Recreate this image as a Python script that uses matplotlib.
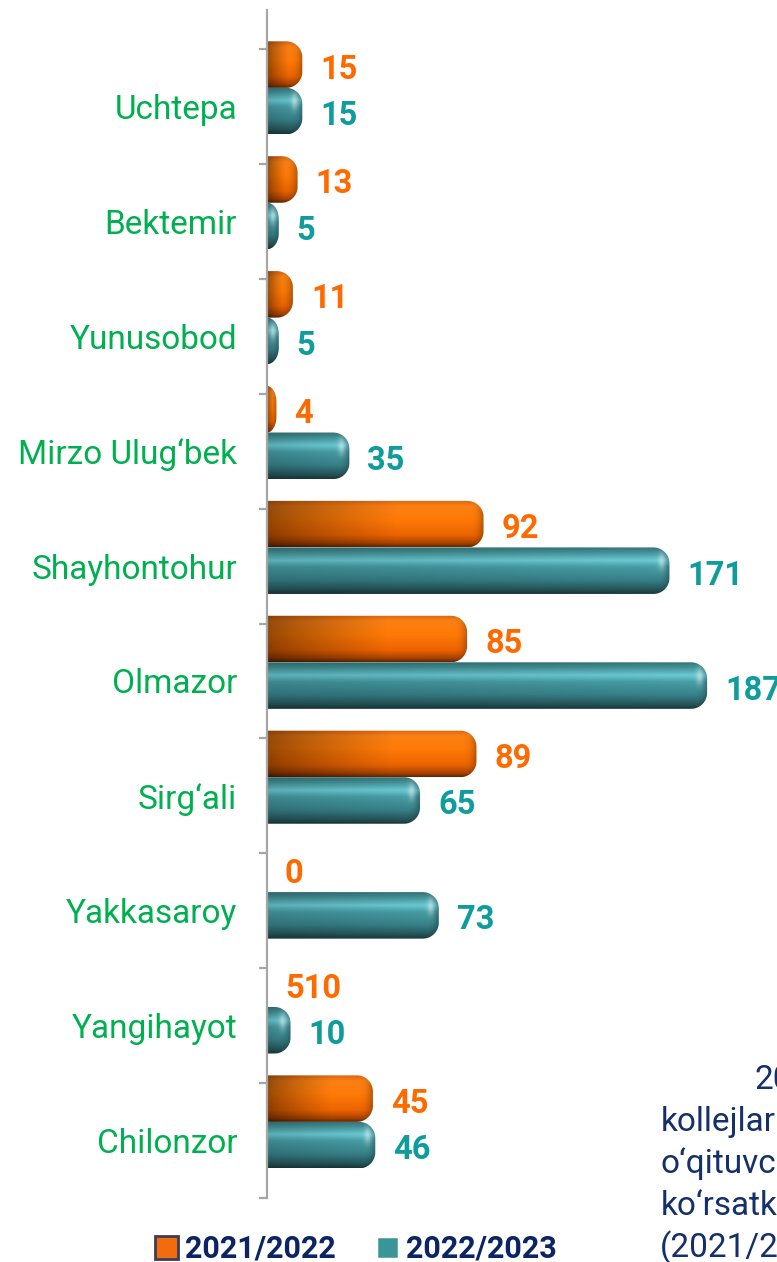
import numpy as np
import matplotlib
matplotlib.use("Agg")
import matplotlib.pyplot as plt
from matplotlib.path import Path
from matplotlib.patches import PathPatch, Patch
from matplotlib.transforms import IdentityTransform

# ---------------- data ----------------
categories = ["Uchtepa", "Bektemir", "Yunusobod", "Mirzo Ulug‘bek", "Shayhontohur",
              "Olmazor", "Sirg‘ali", "Yakkasaroy", "Yangihayot", "Chilonzor"]
values_2021 = [15, 13, 11, 4, 92, 85, 89, 0, 0, 45]
labels_2021 = ["15", "13", "11", "4", "92", "85", "89", "0", "510", "45"]
values_2022 = [15, 5, 5, 35, 171, 187, 65, 73, 10, 46]
labels_2022 = [str(v) for v in values_2022]
series_names = ["2021/2022", "2022/2023"]
side_text = ["2021-2022", "kollejlaridagi", "o‘qituvchilar", "ko‘rsatkichlari", "(2021/2022)"]

FONT = ["Roboto", "DejaVu Sans"]
plt.rcParams["font.family"] = FONT

W, H = 777, 1262
fig = plt.figure(figsize=(W / 100, H / 100), dpi=100)
ax = fig.add_axes([267 / W, (H - 1198) / H, 1 - 267 / W, (1198 - 10) / H])
XMAX = 216.7
ax.set_xlim(0, XMAX)
ax.set_ylim(9.5, -0.84)

ypos = np.arange(len(categories))
BH = 0.405
b1 = ax.barh(ypos - 0.365, values_2021, height=BH, color="none", edgecolor="none")
b2 = ax.barh(ypos + 0.04, values_2022, height=BH, color="none", edgecolor="none")

orange_stops = [(0.0, (0.86, 0.40, 0.06)), (0.12, (0.98, 0.50, 0.08)), (0.40, (1.0, 0.48, 0.03)),
                (0.75, (0.92, 0.39, 0.0)), (0.92, (0.66, 0.26, 0.0)), (1.0, (0.38, 0.15, 0.02))]
teal_stops = [(0.0, (0.20, 0.46, 0.48)), (0.10, (0.26, 0.56, 0.58)), (0.28, (0.42, 0.80, 0.84)),
              (0.42, (0.28, 0.62, 0.65)), (0.70, (0.22, 0.51, 0.54)), (0.90, (0.15, 0.34, 0.36)),
              (1.0, (0.10, 0.22, 0.23))]


def profile(stops, t):
    ts = [s[0] for s in stops]
    out = np.zeros((len(t), 3))
    for c in range(3):
        out[:, c] = np.interp(t, ts, [s[1][c] for s in stops])
    return out


def rounded_path(x0, x1, yb, yt, r):
    rx = min(r, x1 - x0)
    ry = min(r, (yt - yb) / 2)
    a1 = np.linspace(-np.pi / 2, 0, 20)
    a2 = np.linspace(0, np.pi / 2, 20)
    pts = [(x0, yb)]
    cx, cy = x1 - rx, yb + ry
    pts += [(cx + rx * np.cos(a), cy + ry * np.sin(a)) for a in a1]
    cx, cy = x1 - rx, yt - ry
    pts += [(cx + rx * np.cos(a), cy + ry * np.sin(a)) for a in a2]
    pts += [(x0, yt), (x0, yb)]
    codes = [Path.MOVETO] + [Path.LINETO] * (len(pts) - 2) + [Path.CLOSEPOLY]
    return Path(pts, codes), rx


def shade_bar(rect, stops, kind):
    x, yy, w, h = rect.get_x(), rect.get_y(), rect.get_width(), rect.get_height()
    if w <= 0:
        return
    p0 = ax.transData.transform((x, yy))
    p1 = ax.transData.transform((x + w, yy + h))
    x0, x1 = p0[0], p1[0]
    yt, yb = p0[1], p1[1]
    path, rx = rounded_path(x0, x1, yb, yt, 16)
    wpx, hpx = x1 - x0, yt - yb
    nx, ny = max(int(wpx * 2), 4), max(int(hpx * 2), 4)
    t = np.linspace(0, 1, ny)
    s = np.linspace(0, 1, nx)
    px = s * wpx
    vert = profile(stops, t)
    if kind == "o":
        horiz = 0.58 + 0.42 * np.clip(s / 0.6, 0, 1) ** 0.8
    else:
        horiz = 0.86 + 0.14 * s
    d = np.clip((px - (wpx - rx)) / max(rx, 1), 0, 1)
    horiz = horiz * (1 - 0.30 * d ** 3)
    img = vert[:, None, :] * horiz[None, :, None]
    if kind == "t":
        hl = 0.45 * np.exp(-((px - (wpx - 0.5 * rx)) / (0.12 * rx + 1.5)) ** 2)
        wv = np.exp(-((t - 0.3) / 0.18) ** 2)
        k = hl[None, :] * wv[:, None]
        img = img * (1 - k[..., None]) + k[..., None] * 1.0
    img = np.clip(img, 0, 1)
    im = ax.imshow(img, extent=(x, x + w, yy + h, yy), origin="upper", aspect="auto",
                   interpolation="bilinear", zorder=2)
    im.set_clip_path(PathPatch(path, transform=IdentityTransform()))


for r in b1:
    shade_bar(r, orange_stops, "o")
for r in b2:
    shade_bar(r, teal_stops, "t")

ax.set_xlim(0, XMAX)
ax.set_ylim(9.5, -0.84)

ORANGE_TXT = "#FF6A00"
TEAL_TXT = "#0F9C9C"
for r, lab in zip(b1, labels_2021):
    ax.annotate(lab, xy=(r.get_width(), r.get_y() + r.get_height() / 2), xytext=(18, -5),
                textcoords="offset pixels", ha="left", va="center", fontsize=23.5,
                fontweight="bold", color=ORANGE_TXT, annotation_clip=False)
for r, lab in zip(b2, labels_2022):
    ax.annotate(lab, xy=(r.get_width(), r.get_y() + r.get_height() / 2), xytext=(18, -5),
                textcoords="offset pixels", ha="left", va="center", fontsize=23.5,
                fontweight="bold", color=TEAL_TXT, annotation_clip=False)

# axes styling
for sp in ["top", "right", "bottom"]:
    ax.spines[sp].set_visible(False)
ax.spines["left"].set_color("#A6A6A6")
ax.spines["left"].set_linewidth(1.6)
ax.set_xticks([])
ax.set_yticks(np.arange(-0.5, len(categories), 1.0))
ax.set_yticklabels([])
ax.tick_params(axis="y", which="major", length=5.5, width=1.6, color="#A6A6A6", direction="out")
ax.set_yticks(ypos, labels=categories, minor=True)
ax.tick_params(axis="y", which="minor", length=0, pad=21.5, labelsize=24, labelcolor="#00B050")
ax.patch.set_alpha(0)

# legend
handles = [Patch(facecolor="#F26B0C", edgecolor="#3C3C5A", linewidth=2.0),
           Patch(facecolor="#3A9599", edgecolor="white", linewidth=2.5)]
fig.legend(handles, series_names, loc="center", bbox_to_anchor=(356 / W, 1 - 1249 / H),
           ncol=2, frameon=False, prop=dict(family=FONT, weight="bold", size=22),
           labelcolor="#0B2463", handlelength=0.75, handleheight=0.75, handletextpad=0.23,
           columnspacing=1.3, borderpad=0, borderaxespad=0)

# clipped side text (the reference shows it cut at the right edge)
NAVY = "#13306B"
xs = [755, 661, 661, 661, 660]
bases = [1089, 1131, 1173, 1215, 1257]
for txt, xx, yb in zip(side_text, xs, bases):
    fig.text(xx / W, 1 - yb / H, txt, ha="left", va="baseline", fontsize=24, color=NAVY)

fig.savefig("out.png", dpi=100)
